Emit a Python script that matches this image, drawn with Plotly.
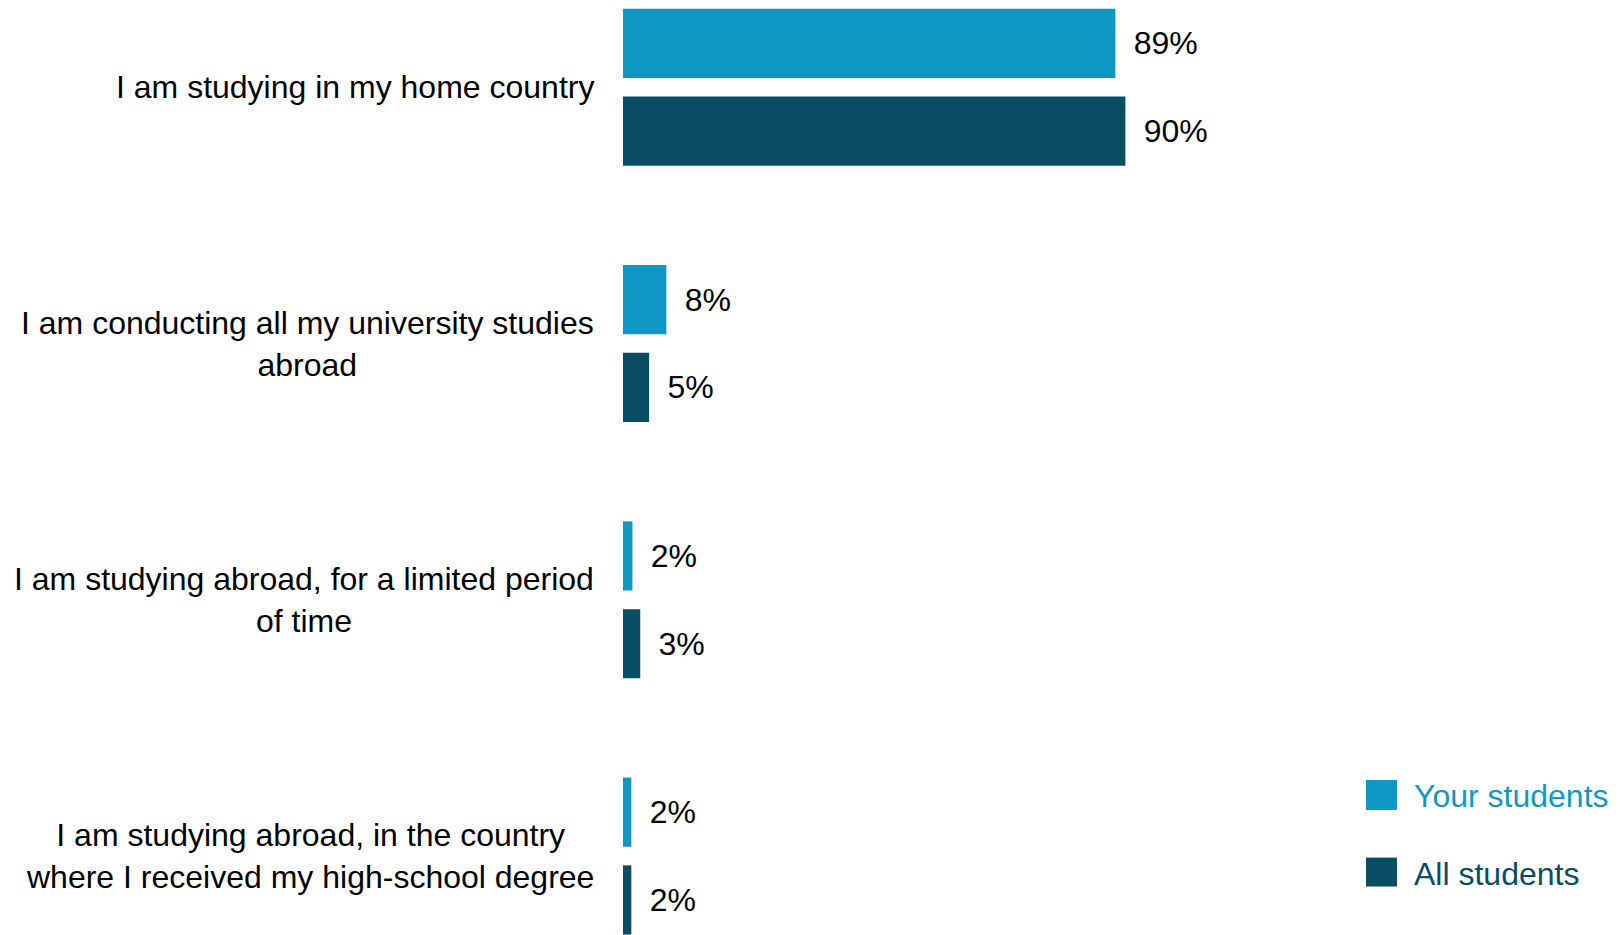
import plotly.graph_objects as go

# ---- data ----
categories = [
    "I am studying in my home country",
    "I am conducting all my university studies<br>abroad",
    "I am studying abroad, for a limited period<br>of time",
    "I am studying abroad, in the country<br>where I received my high-school degree",
]
series_names = ["Your students", "All students"]
your_values = [88.6, 7.8, 1.7, 1.5]
all_values = [90.4, 4.7, 3.1, 1.5]
your_labels = ["89%", "8%", "2%", "2%"]
all_labels = ["90%", "5%", "3%", "2%"]
series_colors = ["#1098C4", "#084D63"]

FONT = "Liberation Sans, Arial, Helvetica, sans-serif"

fig = go.Figure()
for name, vals, labels, col in zip(series_names, [your_values, all_values],
                                   [your_labels, all_labels], series_colors):
    fig.add_trace(go.Bar(
        name=name,
        orientation="h",
        x=vals,
        y=categories,
        marker=dict(color=col, line=dict(width=0)),
        text=[" \u2009" + l for l in labels],
        textposition="outside",
        textangle=0,
        constraintext="none",
        cliponaxis=False,
        textfont=dict(family=FONT, size=32, color="#000000"),
        showlegend=False,
        hovertemplate="%{y}: %{text}<extra>" + name + "</extra>",
    ))

# category labels (centered multi-line)
annotations = []
for cat in categories:
    annotations.append(dict(
        x=0, xref="paper", y=cat, yref="y",
        xanchor="right", yanchor="middle", xshift=-27,
        text=cat, align="center", showarrow=False,
        font=dict(family=FONT, size=32, color="#000000"),
    ))

# custom legend (large square swatches)
shapes = []
legend_rows = [(0.1672, 0.1348, 0.1504), (0.0835, 0.0523, 0.0658)]
for (ytop, ybot, ytxt), name, col in zip(legend_rows, series_names, series_colors):
    shapes.append(dict(type="rect", xref="paper", yref="paper",
                       x0=0.7452, x1=0.7763, y0=ybot, y1=ytop,
                       fillcolor=col, line=dict(width=0)))
    annotations.append(dict(
        x=0.791, xref="paper", y=ytxt, yref="paper",
        xanchor="left", yanchor="middle", text=name, showarrow=False,
        font=dict(family=FONT, size=32, color=col),
    ))

fig.update_layout(
    width=1612, height=927,
    margin=dict(l=615, r=0, t=0, b=0),
    paper_bgcolor="white", plot_bgcolor="white",
    barmode="group", bargap=0.3146, bargroupgap=0.212,
    xaxis=dict(visible=False, range=[0, 179.4]),
    yaxis=dict(type="category", range=[3.308, -0.3095], showticklabels=False,
               showgrid=False, zeroline=False, showline=False, ticks=""),
    annotations=annotations,
    shapes=shapes,
    showlegend=False,
    font=dict(family=FONT),
)

fig.write_html("out.html")
